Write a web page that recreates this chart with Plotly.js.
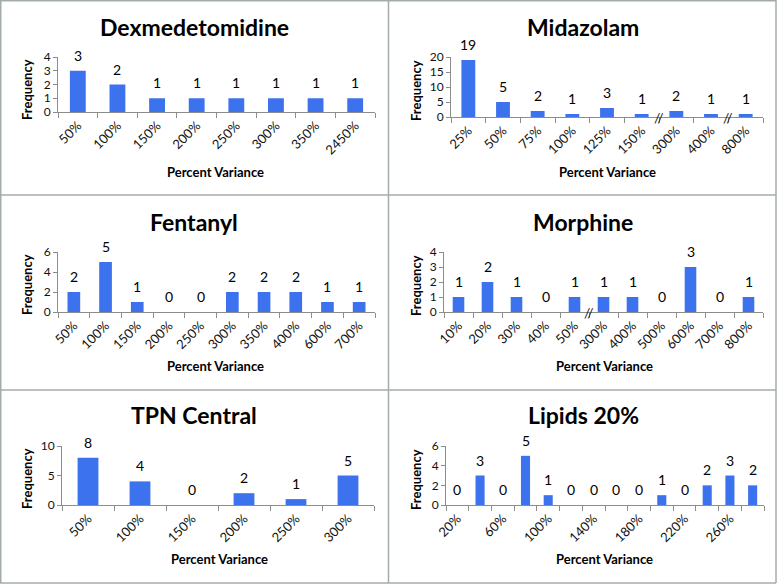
<!DOCTYPE html>
<html>
<head>
<meta charset="utf-8">
<script src="https://cdn.plot.ly/plotly-3.0.1.min.js"></script>
<style>html,body{margin:0;padding:0;background:#fff;}#chart{width:778px;height:584px;}</style>
</head>
<body>
<div id="chart"></div>
<script>
// ---- data ----
const titles = ['Dexmedetomidine','Midazolam','Fentanyl','Morphine','TPN Central','Lipids 20%'];

const dexCats = ['50%','100%','150%','200%','250%','300%','350%','2450%'];
const dexVals = [3,2,1,1,1,1,1,1];

const midCats = ['25%','50%','75%','100%','125%','150%','300%','400%','800%'];
const midVals = [19,5,2,1,3,1,2,1,1];

const fenCats = ['50%','100%','150%','200%','250%','300%','350%','400%','600%','700%'];
const fenVals = [2,5,1,0,0,2,2,2,1,1];

const morCats = ['10%','20%','30%','40%','50%','300%','400%','500%','600%','700%','800%'];
const morVals = [1,2,1,0,1,1,1,0,3,0,1];

const tpnCats = ['50%','100%','150%','200%','250%','300%'];
const tpnVals = [8,4,0,2,1,5];

const lipCats = ['20%','40%','60%','80%','100%','120%','140%','160%','180%','200%','220%','240%','260%','280%'];
const lipVals = [0,3,0,5,1,0,0,0,0,1,0,2,3,2];
const lipTickText = ['20%','','60%','','100%','','140%','','180%','','220%','','260%',''];

const yMax = [4,20,6,4,10,6];
const yStep = [1,5,2,1,5,2];
// axis break positions (between categories)
const midBreaks = [5.5,7.5];
const morBreaks = [4.5];

// ---- layout geometry (pixels) ----
const W = 778, H = 584;
const plotBoxes = [ // [left, right, top, bottom]
  [58,375,57,112],
  [451,763,57,117],
  [58,375,252,312],
  [444,763,252,312],
  [62,374,446,505],
  [446,764,446,505]
];
const titleY = [27,27,222,222,415,415];
const titleX = [194,583,194,583,194,583];
const ytX = [27,416,27,416,27,416];
const ytY = [90,90,285,285,479,479];
const xtX = [215,607,215,604,219,604];
const xtY = [172,172,366,366,559,559];

const cats = [dexCats,midCats,fenCats,morCats,tpnCats,lipCats];
const vals = [dexVals,midVals,fenVals,morVals,tpnVals,lipVals];
const tickTexts = [dexCats,midCats,fenCats,morCats,tpnCats,lipTickText];
const breaks = [[],midBreaks,[],morBreaks,[],[]];

const barColor = '#3d72ee';
const axisColor = '#8c8c8c';
const textColor = '#111111';
const FONT = 'Lato, "Open Sans", sans-serif';

const data = [];
const layout = {
  width: W, height: H,
  margin: {l:0,r:0,t:0,b:0},
  paper_bgcolor: '#ffffff', plot_bgcolor: '#ffffff',
  showlegend: false,
  bargap: 0.6,
  font: {family: FONT, color: textColor, size: 14},
  annotations: [],
  shapes: []
};

for (let i = 0; i < 6; i++) {
  const sfx = i === 0 ? '' : String(i+1);
  const xa = 'x' + sfx, ya = 'y' + sfx;
  data.push({
    type: 'bar', x: cats[i], y: vals[i], xaxis: xa, yaxis: ya,
    marker: {color: barColor}, hoverinfo: 'x+y'
  });
  const b = plotBoxes[i];
  layout['xaxis' + sfx] = {
    domain: [b[0]/W, b[1]/W], anchor: ya, type: 'category',
    categoryorder: 'array', categoryarray: cats[i],
    tickmode: 'array', tickvals: cats[i], ticktext: tickTexts[i],
    tickson: 'boundaries', ticks: 'outside', ticklen: 5, tickcolor: axisColor, tickwidth: 1,
    showline: true, linecolor: axisColor, linewidth: 1,
    showgrid: false, zeroline: false, tickangle: -45,
    tickfont: {family: FONT, size: 13, color: textColor},
    range: [-0.5, cats[i].length - 0.5], fixedrange: true
  };
  layout['yaxis' + sfx] = {
    domain: [1 - b[3]/H, 1 - b[2]/H], anchor: xa,
    range: [0, yMax[i]], tick0: 0, dtick: yStep[i],
    ticks: 'outside', ticklen: 4, tickcolor: axisColor,
    showline: true, linecolor: axisColor, linewidth: 1,
    showgrid: false, zeroline: false,
    tickfont: {family: FONT, size: 12, color: textColor}, fixedrange: true
  };
  // data labels
  cats[i].forEach((c, k) => {
    layout.annotations.push({
      xref: xa, yref: ya, x: c, y: vals[i][k], text: String(vals[i][k]),
      showarrow: false, yanchor: 'bottom', yshift: 5,
      font: {family: FONT, size: 14, color: '#000000'}
    });
  });
  // axis breaks
  breaks[i].forEach(p => {
    layout.annotations.push({
      xref: xa, yref: ya, x: p, y: 0, text: '//', showarrow: false,
      xanchor: 'center', yanchor: 'middle',
      font: {family: FONT, size: 14, color: '#222'}
    });
  });
  // titles
  layout.annotations.push({
    xref: 'paper', yref: 'paper', x: titleX[i]/W, y: 1 - titleY[i]/H,
    text: '<b>' + titles[i] + '</b>', showarrow: false, xanchor: 'center', yanchor: 'middle',
    font: {family: FONT, size: 23, color: '#000'}
  });
  layout.annotations.push({
    xref: 'paper', yref: 'paper', x: ytX[i]/W, y: 1 - ytY[i]/H,
    text: '<b>Frequency</b>', textangle: -90, showarrow: false, xanchor: 'center', yanchor: 'middle',
    font: {family: FONT, size: 13, color: '#000'}
  });
  layout.annotations.push({
    xref: 'paper', yref: 'paper', x: xtX[i]/W, y: 1 - xtY[i]/H,
    text: '<b>Percent Variance</b>', showarrow: false, xanchor: 'center', yanchor: 'middle',
    font: {family: FONT, size: 13, color: '#000'}
  });
}

// panel borders
const bc = '#a4abab';
const ln = (x0,y0,x1,y1) => ({type:'line', xref:'paper', yref:'paper', x0:x0/W, y0:1-y0/H, x1:x1/W, y1:1-y1/H, line:{color:bc, width:1.5}});
layout.shapes.push(ln(0.75,0,0.75,583));
layout.shapes.push(ln(776,0,776,583));
layout.shapes.push(ln(0,0.75,776,0.75));
layout.shapes.push(ln(0,583,776,583));
layout.shapes.push(ln(388.5,0,388.5,583));
layout.shapes.push(ln(0,195,776,195));
layout.shapes.push(ln(0,390,776,390));

Plotly.newPlot('chart', data, layout, {displayModeBar: false, staticPlot: true});
</script>
</body>
</html>
